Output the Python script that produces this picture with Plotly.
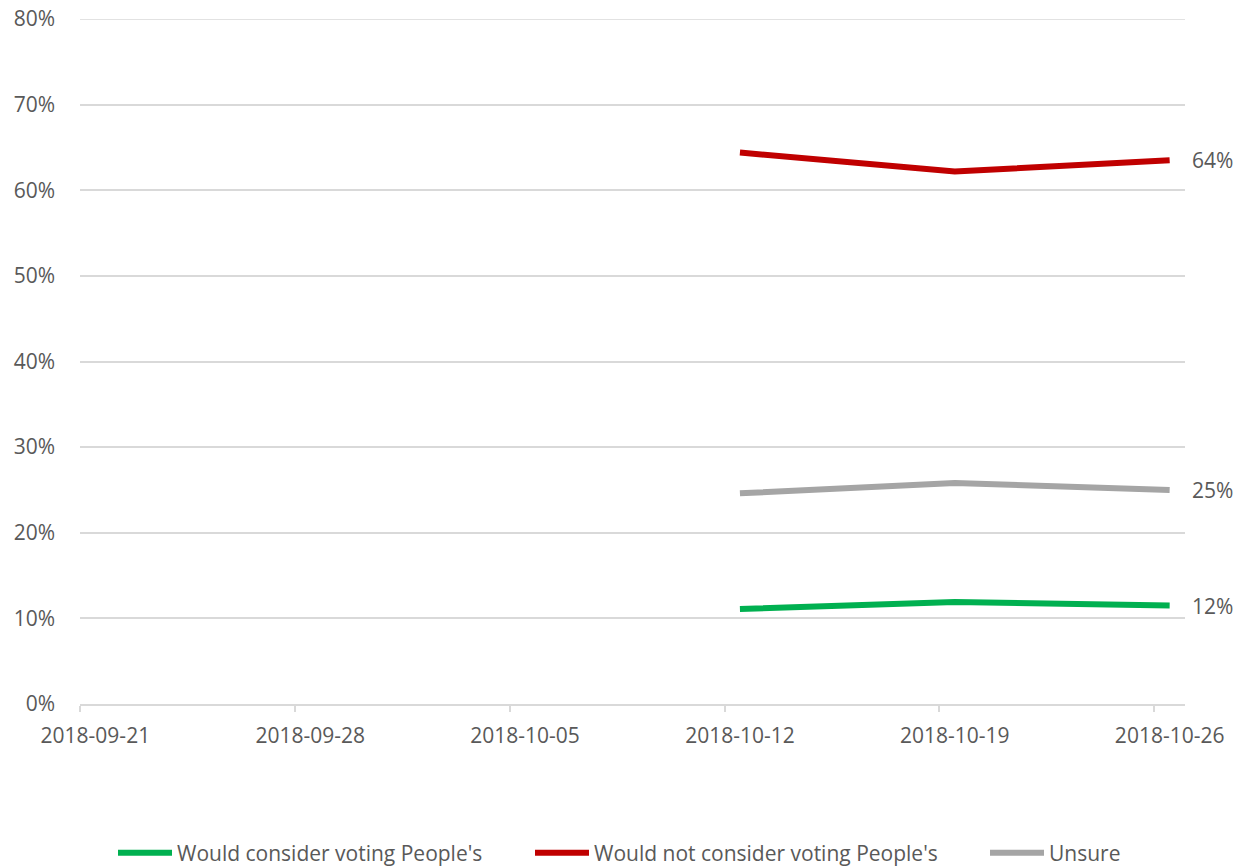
import plotly.graph_objects as go

dates = ["2018-10-12 12:00", "2018-10-19 12:00", "2018-10-26 12:00"]
would_consider = [11.1, 11.9, 11.5]
would_not_consider = [64.4, 62.2, 63.5]
unsure = [24.6, 25.8, 25.0]

series_names = ["Would consider voting People's", "Would not consider voting People's", "Unsure"]
series_colors = ["#00B050", "#C00000", "#A5A5A5"]

tick_dates = ["2018-09-21", "2018-09-28", "2018-10-05", "2018-10-12", "2018-10-19", "2018-10-26"]
x_range = ["2018-09-21", "2018-10-27"]
y_ticks_pct = [0, 10, 20, 30, 40, 50, 60, 70, 80]

FONT = "Open Sans"
TXT = "#595959"
GRID = "#D9D9D9"
W, H = 1249, 868
FS = 21

legend_ids = ["legend", "legend2", "legend3"]
legend_line_x = [118, 535, 990]  # x of each legend symbol

fig = go.Figure()
for name, vals, col, lid in zip(series_names, [would_consider, would_not_consider, unsure], series_colors, legend_ids):
    fig.add_trace(go.Scatter(
        x=dates, y=[v / 100 for v in vals], mode="lines", name=name,
        line=dict(color=col, width=6), legend=lid,
    ))
    last = vals[-1]
    fig.add_annotation(
        x=dates[-1], y=last / 100, text=f"{int(last + 0.5)}%", showarrow=False,
        xanchor="left", yanchor="middle", xshift=20,
        font=dict(family=FONT, size=FS, color=TXT),
    )

# top gridline (plotly omits the grid line at the range edge)
fig.add_shape(type="line", xref="paper", x0=0, x1=1, yref="y",
              y0=y_ticks_pct[-1] / 100, y1=y_ticks_pct[-1] / 100,
              line=dict(color=GRID, width=1.5), layer="below")

legend_common = dict(
    orientation="h", xref="container", yref="container",
    xanchor="left", yanchor="middle", y=(H - 853) / H,
    font=dict(family=FONT, size=FS, color=TXT),
    itemwidth=54, bgcolor="rgba(0,0,0,0)",
)
legends = {}
for lid, lx in zip(legend_ids, legend_line_x):
    legends[lid] = dict(legend_common, x=(lx - 5) / W)

fig.update_layout(
    width=W, height=H,
    paper_bgcolor="white", plot_bgcolor="white",
    margin=dict(l=80, r=W - 1185, t=19, b=H - 704, autoexpand=False),
    font=dict(family=FONT, size=FS, color=TXT),
    showlegend=True,
    **legends,
)
fig.update_xaxes(
    type="date", range=x_range,
    tickvals=[d + " 12:00" for d in tick_dates], ticktext=tick_dates,
    showgrid=False, showline=True, linecolor=GRID, linewidth=2,
    ticks="", ticklabelstandoff=12,
    minor=dict(tickvals=tick_dates, ticks="outside", ticklen=6, tickcolor=GRID,
               tickwidth=2, showgrid=False),
    ticklabeloverflow="allow", automargin=False,
    tickfont=dict(family=FONT, size=FS, color=TXT),
)
fig.update_yaxes(
    range=[0, 0.8], tickvals=[t / 100 for t in y_ticks_pct], tickformat=".0%",
    showgrid=True, gridcolor=GRID, gridwidth=1.5, zeroline=False, showline=False,
    ticks="", ticklabelstandoff=24, ticklabeloverflow="allow", automargin=False,
    tickfont=dict(family=FONT, size=FS, color=TXT),
)

fig.write_html("out.html", config={"displayModeBar": False},
               post_script="document.body.style.margin='0';")
